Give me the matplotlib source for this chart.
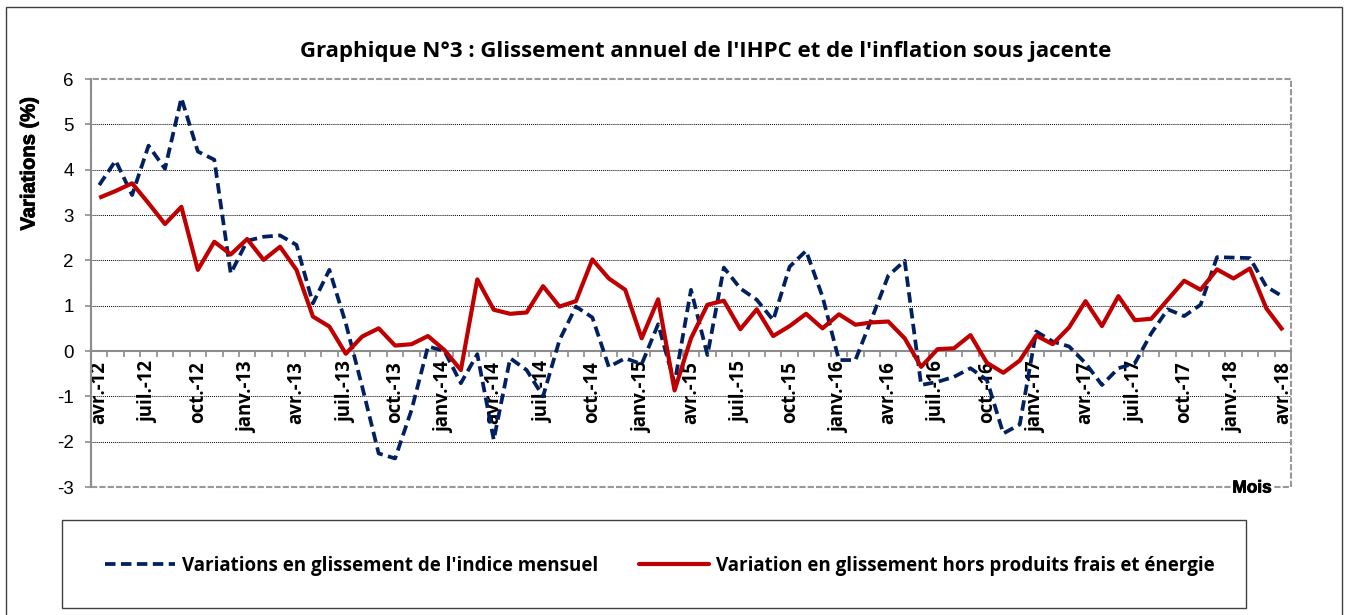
import numpy as np
import matplotlib
matplotlib.use("Agg")
import matplotlib.pyplot as plt
from matplotlib.patches import Rectangle
from matplotlib.lines import Line2D
from matplotlib import font_manager as fm
from matplotlib import patheffects as pe

# ---------------- data ----------------
title = "Graphique N°3 : Glissement annuel de l'IHPC et de l'inflation sous jacente"
ylabel = "Variations (%)"
xlabel = "Mois"
series_names = ["Variations en glissement de l'indice mensuel",
                "Variation en glissement hors produits frais et énergie"]

# 73 monthly observations, avr.-12 ... avr.-18
ihpc = [3.66, 4.20, 3.44, 4.53, 4.02, 5.58, 4.40, 4.22, 1.71, 2.43,
        2.52, 2.55, 2.34, 1.05, 1.79, 0.61, -0.79, -2.26, -2.37, -1.30,
        0.10, 0.00, -0.71, -0.07, -1.96, -0.16, -0.42, -1.00, 0.24, 0.98,
        0.74, -0.35, -0.16, -0.29, 0.59, -0.71, 1.35, -0.09, 1.84, 1.38,
        1.13, 0.68, 1.86, 2.21, 1.20, -0.20, -0.20, 0.72, 1.66, 1.99,
        -0.75, -0.68, -0.57, -0.38, -0.64, -1.82, -1.62, 0.43, 0.21, 0.10,
        -0.27, -0.75, -0.38, -0.27, 0.39, 0.92, 0.77, 1.02, 2.07, 2.06,
        2.05, 1.42, 1.20]
sous_jacente = [3.38, 3.53, 3.70, 3.26, 2.80, 3.18, 1.79, 2.41, 2.13, 2.47,
                2.01, 2.30, 1.79, 0.76, 0.54, -0.06, 0.32, 0.50, 0.12, 0.15,
                0.33, 0.02, -0.42, 1.58, 0.91, 0.82, 0.85, 1.43, 0.98, 1.10,
                2.02, 1.60, 1.35, 0.28, 1.14, -0.87, 0.28, 1.02, 1.11, 0.48,
                0.92, 0.33, 0.55, 0.82, 0.50, 0.81, 0.58, 0.63, 0.65, 0.28,
                -0.35, 0.04, 0.06, 0.35, -0.26, -0.48, -0.21, 0.34, 0.15, 0.52,
                1.10, 0.55, 1.21, 0.68, 0.71, 1.13, 1.55, 1.35, 1.80, 1.60,
                1.82, 0.94, 0.46]
tick_labels = ["avr.-12", "juil.-12", "oct.-12", "janv.-13", "avr.-13", "juil.-13",
               "oct.-13", "janv.-14", "avr.-14", "juil.-14", "oct.-14", "janv.-15",
               "avr.-15", "juil.-15", "oct.-15", "janv.-16", "avr.-16", "juil.-16",
               "oct.-16", "janv.-17", "avr.-17", "juil.-17", "oct.-17", "janv.-18",
               "avr.-18"]
y_ticks = [-3, -2, -1, 0, 1, 2, 3, 4, 5, 6]

# ---------------- figure ----------------
W, H = 1348, 615
fig = plt.figure(figsize=(W / 100, H / 100), dpi=100)
fig.patch.set_facecolor("white")
renderer = fig.canvas.get_renderer()

def fx(px):
    return px / W

def fy(py):
    return 1 - py / H

def fit_size(text, target_px, family, weight="bold", base=12.0):
    t = fig.text(0, 0, text, family=family, fontweight=weight, fontsize=base)
    w = t.get_window_extent(renderer=renderer).width
    t.remove()
    return base * target_px / w

CAL = ["Open Sans", "DejaVu Sans"]        # stand-in for Calibri
ARI = ["Liberation Sans", "DejaVu Sans"]  # Arial metric clone

def bold_file(names):
    for f in fm.fontManager.ttflist:
        if f.name in names and f.weight in (700, "bold") and f.style == "normal":
            return f.fname
    return None

bf = bold_file(["Liberation Sans"]) or bold_file(["Noto Sans"]) or bold_file(["DejaVu Sans"])
ARIB_PROP = fm.FontProperties(fname=bf)

def fit_size_prop(text, target_px, base=12.0):
    p = ARIB_PROP.copy()
    p.set_size(base)
    t = fig.text(0, 0, text, fontproperties=p)
    w = t.get_window_extent(renderer=renderer).width
    t.remove()
    return base * target_px / w

thick = [pe.withStroke(linewidth=0.6, foreground="black")]

# outer chart frame
fig.patches.append(Rectangle((fx(6), -0.2), fx(1342) - fx(6), fy(7) + 0.2,
                             transform=fig.transFigure, fill=False,
                             edgecolor="#404040", lw=1.0))

ax = fig.add_axes([fx(91), fy(487), fx(1291) - fx(91), fy(79) - fy(487)])
x = np.arange(len(ihpc))

GRAY = "#8c8c8c"
BLUE = "#002060"
RED = "#C00000"
for v in y_ticks:
    if v not in (0, y_ticks[0], y_ticks[-1]):
        ax.axhline(v, color="black", lw=0.7, ls=(0, (1, 1)), zorder=1)

blue_lw, red_lw = 2.7, 3.0
blue_ls = (0, (2.8, 1.45))
ax.plot(x, ihpc, color=BLUE, lw=blue_lw, ls=blue_ls,
        dash_capstyle="butt", dash_joinstyle="round", zorder=4)
ax.plot(x, sous_jacente, color=RED, lw=red_lw,
        solid_joinstyle="round", solid_capstyle="butt", zorder=5)

ax.set_xlim(-0.5, len(ihpc) - 0.5)
ax.set_ylim(y_ticks[0], y_ticks[-1])

# spines
for s in ("top", "right"):
    ax.spines[s].set_visible(False)
ax.spines["left"].set_color(GRAY)
ax.spines["left"].set_linewidth(1.5)
ax.spines["bottom"].set_position(("data", 0))
ax.spines["bottom"].set_color(GRAY)
ax.spines["bottom"].set_linewidth(1.5)
ax.spines["bottom"].set_zorder(3)

# dashed plot-area border
ax.add_patch(Rectangle((0, 0), 1, 1, transform=ax.transAxes, fill=False,
                       edgecolor="#999999", lw=1.5, ls=(0, (3, 1)),
                       clip_on=False, zorder=2))

# y axis
ax.set_yticks(y_ticks)
ax.set_yticklabels([str(v) for v in y_ticks], family=ARI, fontsize=13.5)
ax.tick_params(axis="y", direction="out", length=4.5, width=1.2, color=GRAY, pad=8)

# x axis
xt_size = fit_size("janv.-13", 72, CAL)
ax.set_xticks(x[::3])
ax.set_xticklabels(tick_labels, rotation=90, family=CAL, fontweight="bold",
                   fontsize=xt_size, va="top", ha="center")
ax.set_xticks(np.arange(-0.5, len(ihpc), 1), minor=True)
ax.tick_params(axis="x", which="major", length=0, pad=7.5)
ax.tick_params(axis="x", which="minor", direction="out", length=4, width=1.2, color=GRAY)

# texts
fig.text(fx(706), fy(51), title, ha="center", va="center",
         family=CAL, fontweight="bold", fontsize=fit_size(title, 812, CAL))
p_y = ARIB_PROP.copy()
p_y.set_size(fit_size_prop(ylabel, 133))
fig.text(fx(29), fy(164), ylabel, rotation=90, ha="center", va="center",
         fontproperties=p_y, path_effects=thick)
p_m = ARIB_PROP.copy()
p_m.set_size(fit_size_prop(xlabel, 39))
fig.text(fx(1252), fy(488), xlabel, ha="center", va="center", fontproperties=p_m,
         path_effects=thick,
         bbox=dict(facecolor="white", edgecolor="none", pad=1))

# legend (Excel-style box spanning the chart width)
fig.patches.append(Rectangle((fx(62), fy(608)), fx(1246) - fx(62), fy(520) - fy(608),
                             transform=fig.transFigure, fill=False,
                             edgecolor="#404040", lw=1.0))
leg_size = fit_size(series_names[0], 415, CAL)
ly = fy(564)
fig.lines.append(Line2D([fx(105), fx(175)], [ly, ly], transform=fig.transFigure,
                        color=BLUE, lw=blue_lw, ls=blue_ls))
fig.lines.append(Line2D([fx(639), fx(709)], [ly, ly], transform=fig.transFigure,
                        color=RED, lw=red_lw, solid_capstyle="round"))
fig.text(fx(182), ly, series_names[0], ha="left", va="center_baseline",
         family=CAL, fontweight="bold", fontsize=leg_size)
fig.text(fx(716), ly, series_names[1], ha="left", va="center_baseline",
         family=CAL, fontweight="bold", fontsize=leg_size)

fig.savefig("out.png", dpi=100, facecolor="white")
